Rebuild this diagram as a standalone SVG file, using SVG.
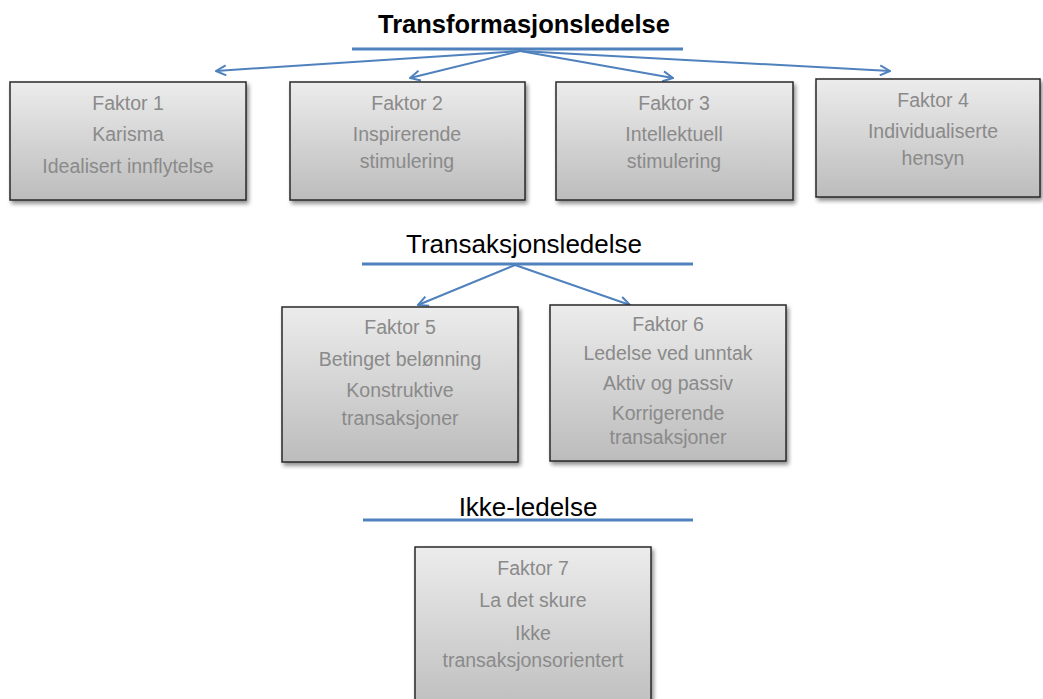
<svg xmlns="http://www.w3.org/2000/svg" width="1043" height="699" viewBox="0 0 1043 699">
<defs>
<linearGradient id="g" x1="0" y1="0" x2="0" y2="1">
<stop offset="0" stop-color="#ececec"/>
<stop offset="1" stop-color="#bcbcbc"/>
</linearGradient>
<filter id="sh" x="-10%" y="-10%" width="120%" height="130%">
<feGaussianBlur in="SourceAlpha" stdDeviation="2"/>
<feOffset dx="2" dy="3"/>
<feComponentTransfer><feFuncA type="linear" slope="0.45"/></feComponentTransfer>
<feMerge><feMergeNode/><feMergeNode in="SourceGraphic"/></feMerge>
</filter>
<marker id="ah" viewBox="0 0 12 12" refX="11" refY="6" markerWidth="12" markerHeight="12" markerUnits="userSpaceOnUse" orient="auto">
<path d="M1,1 L11,6 L1,11" fill="none" stroke="#4f81bd" stroke-width="2"/>
</marker>
</defs>
<style>
.box{fill:url(#g);stroke:#2a2a2a;stroke-width:1.5;filter:url(#sh)}
.t{font-family:"Liberation Sans",Arial,sans-serif;font-size:19.5px;fill:#8a8a8a;text-anchor:middle}
.h{font-family:"Liberation Sans",Arial,sans-serif;font-size:26px;fill:#000;text-anchor:middle}
.ln{stroke:#4f81bd;stroke-width:3;fill:none}
.ar{stroke:#4f81bd;stroke-width:2;fill:none;marker-end:url(#ah)}
</style>
<rect width="1043" height="699" fill="#fff"/>
<text class="h" x="524" y="33" font-weight="bold" style="font-size:25.5px">Transformasjonsledelse</text>
<text class="h" x="524" y="253">Transaksjonsledelse</text>
<text class="h" x="528" y="516">Ikke-ledelse</text>
<g id="connectors">
<line class="ln" x1="352" y1="49" x2="683" y2="49"/>
<line class="ln" x1="362" y1="264" x2="693" y2="264"/>
<line class="ln" x1="363" y1="520" x2="693" y2="520"/>
<line class="ar" x1="520" y1="51" x2="216" y2="71"/>
<line class="ar" x1="520" y1="51" x2="410" y2="78"/>
<line class="ar" x1="520" y1="51" x2="673" y2="78"/>
<line class="ar" x1="520" y1="51" x2="890" y2="71"/>
<line class="ar" x1="515" y1="265" x2="418" y2="305"/>
<line class="ar" x1="515" y1="265" x2="630" y2="305"/>
</g>
<g id="f1"><rect class="box" x="10" y="82" width="236" height="118"/>
<text class="t" x="128" y="110">Faktor 1</text><text class="t" x="128" y="141">Karisma</text><text class="t" x="128" y="173">Idealisert innflytelse</text></g>
<g id="f2"><rect class="box" x="290" y="82" width="235" height="118"/>
<text class="t" x="407" y="110">Faktor 2</text><text class="t" x="407" y="141">Inspirerende</text><text class="t" x="407" y="168">stimulering</text></g>
<g id="f3"><rect class="box" x="556" y="82" width="237" height="118"/>
<text class="t" x="674" y="110">Faktor 3</text><text class="t" x="674" y="141">Intellektuell</text><text class="t" x="674" y="168">stimulering</text></g>
<g id="f4"><rect class="box" x="816" y="79" width="224" height="118"/>
<text class="t" x="933" y="107">Faktor 4</text><text class="t" x="933" y="138">Individualiserte</text><text class="t" x="933" y="165">hensyn</text></g>
<g id="f5"><rect class="box" x="282" y="307" width="236" height="155"/>
<text class="t" x="400" y="334">Faktor 5</text><text class="t" x="400" y="366">Betinget belønning</text><text class="t" x="400" y="397">Konstruktive</text><text class="t" x="400" y="425">transaksjoner</text></g>
<g id="f6"><rect class="box" x="550" y="305" width="236" height="156"/>
<text class="t" x="668" y="331">Faktor 6</text><text class="t" x="668" y="360">Ledelse ved unntak</text><text class="t" x="668" y="390">Aktiv og passiv</text><text class="t" x="668" y="420">Korrigerende</text><text class="t" x="668" y="444">transaksjoner</text></g>
<g id="f7"><rect class="box" x="415" y="547" width="236" height="170"/>
<text class="t" x="533" y="575">Faktor 7</text><text class="t" x="533" y="607">La det skure</text><text class="t" x="533" y="640">Ikke</text><text class="t" x="533" y="667">transaksjonsorientert</text></g>
</svg>
